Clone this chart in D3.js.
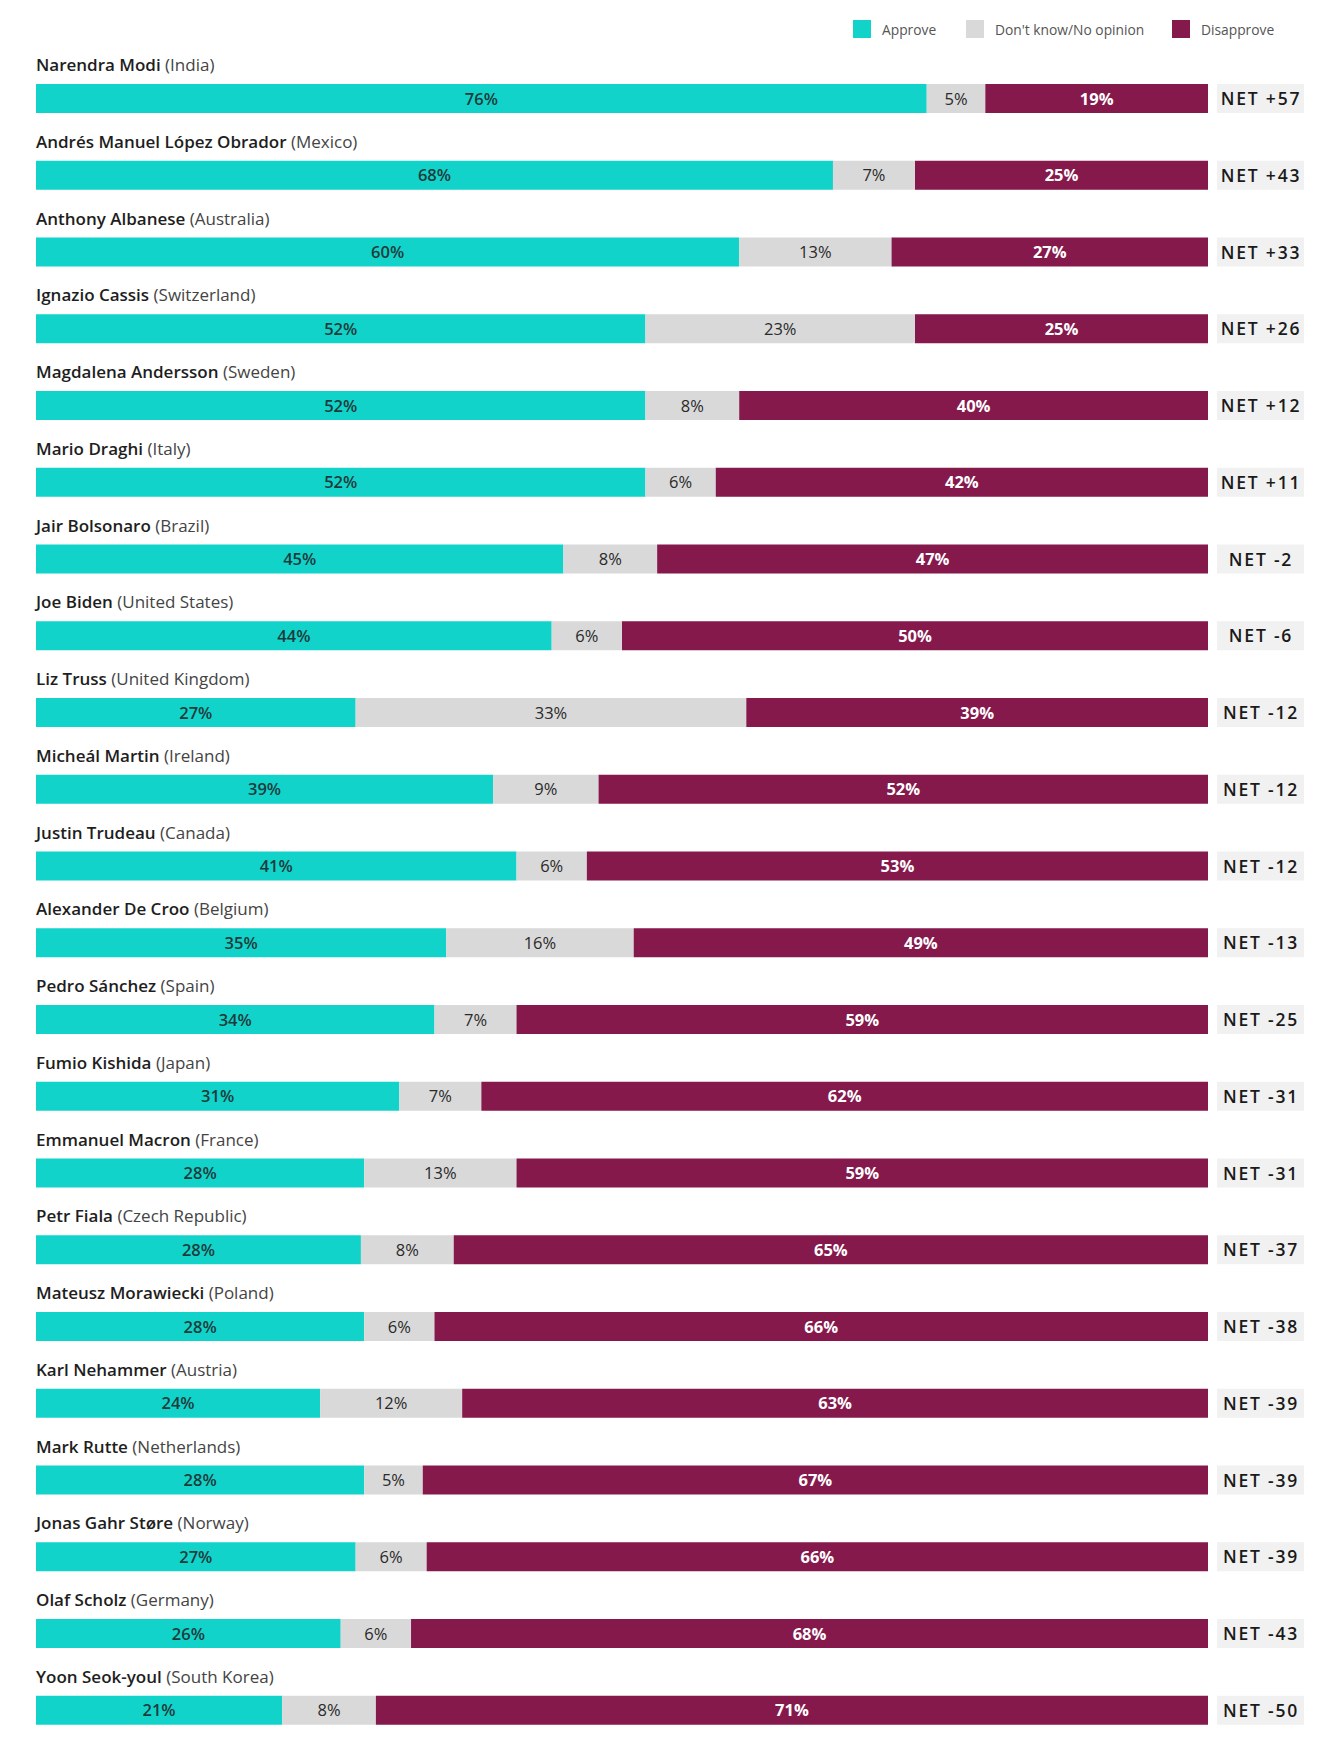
<!DOCTYPE html>
<html>
<head>
<meta charset="utf-8">
<script src="https://cdn.jsdelivr.net/npm/d3@7"></script>
<style>
  html, body { margin: 0; padding: 0; background: #fff; }
  svg { display: block; }
  text { font-family: "Open Sans", "Noto Sans", sans-serif; }
</style>
</head>
<body>
<svg id="chart" width="1335" height="1742"></svg>
<script>
const leaders = ["Narendra Modi","Andrés Manuel López Obrador","Anthony Albanese","Ignazio Cassis","Magdalena Andersson","Mario Draghi","Jair Bolsonaro","Joe Biden","Liz Truss","Micheál Martin","Justin Trudeau","Alexander De Croo","Pedro Sánchez","Fumio Kishida","Emmanuel Macron","Petr Fiala","Mateusz Morawiecki","Karl Nehammer","Mark Rutte","Jonas Gahr Støre","Olaf Scholz","Yoon Seok-youl"];
const countries = ["India","Mexico","Australia","Switzerland","Sweden","Italy","Brazil","United States","United Kingdom","Ireland","Canada","Belgium","Spain","Japan","France","Czech Republic","Poland","Austria","Netherlands","Norway","Germany","South Korea"];
const approve    = [76,68,60,52,52,52,45,44,27,39,41,35,34,31,28,28,28,24,28,27,26,21];
const dontKnow   = [5,7,13,23,8,6,8,6,33,9,6,16,7,7,13,8,6,12,5,6,6,8];
const disapprove = [19,25,27,25,40,42,47,50,39,52,53,49,59,62,59,65,66,63,67,66,68,71];
const netLabels  = ["NET +57","NET +43","NET +33","NET +26","NET +12","NET +11","NET -2","NET -6","NET -12","NET -12","NET -12","NET -13","NET -25","NET -31","NET -31","NET -37","NET -38","NET -39","NET -39","NET -39","NET -43","NET -50"];
const seriesNames = ["Approve","Don't know/No opinion","Disapprove"];

const colors = ["#12d3ca", "#d9d9d9", "#85194c"];
const labelColors = ["#1d3b3a", "#2a2a2a", "#ffffff"];
const labelWeights = [600, 400, 700];

const svg = d3.select("#chart");
const x0 = 36, x1 = 1208;

const y = d3.scaleBand()
  .domain(d3.range(leaders.length))
  .range([84, 84 + 21 * 76.75 + 29])
  .paddingInner(1 - 29 / 76.75)
  .paddingOuter(0);

// Legend
const legendX = [853, 966, 1172];
const legend = svg.append("g");
seriesNames.forEach((name, k) => {
  legend.append("rect").attr("x", legendX[k]).attr("y", 20).attr("width", 18).attr("height", 18).attr("fill", colors[k]);
  legend.append("text").attr("x", legendX[k] + 29).attr("y", 34.5)
    .attr("font-size", 13.8).attr("fill", "#555").text(name);
});

const rows = svg.selectAll("g.row")
  .data(leaders.map((n, i) => ({
    name: n, country: countries[i], vals: [approve[i], dontKnow[i], disapprove[i]], net: netLabels[i], i
  })))
  .enter().append("g").attr("class", "row");

rows.each(function(d) {
  const g = d3.select(this);
  const top = y(d.i);
  const h = y.bandwidth();
  const total = d3.sum(d.vals);
  const x = d3.scaleLinear().domain([0, total]).range([x0, x1]);

  const t = g.append("text").attr("x", x0).attr("y", top - 13).attr("font-size", 17).attr("fill", "#1e1e1e");
  t.append("tspan").attr("font-weight", 600).text(d.name);
  t.append("tspan").attr("font-weight", 400).attr("fill", "#444").text(" (" + d.country + ")");

  let cum = 0;
  d.vals.forEach((v, k) => {
    const xa = x(cum), xb = x(cum + v);
    g.append("rect").attr("x", xa).attr("y", top).attr("width", xb - xa).attr("height", h).attr("fill", colors[k]);
    g.append("text").attr("x", (xa + xb) / 2).attr("y", top + h / 2 + 6)
      .attr("text-anchor", "middle").attr("font-size", 16.5)
      .attr("font-weight", labelWeights[k]).attr("fill", labelColors[k])
      .text(v + "%");
    cum += v;
  });

  g.append("rect").attr("x", 1217).attr("y", top).attr("width", 87).attr("height", h).attr("fill", "#f1f1f1");
  g.append("text").attr("x", 1261).attr("y", top + h / 2 + 6.5)
    .attr("text-anchor", "middle").attr("font-size", 17.5).attr("font-weight", 600)
    .attr("letter-spacing", 1.8).attr("fill", "#1a1a1a").text(d.net);
});
</script>
</body>
</html>
